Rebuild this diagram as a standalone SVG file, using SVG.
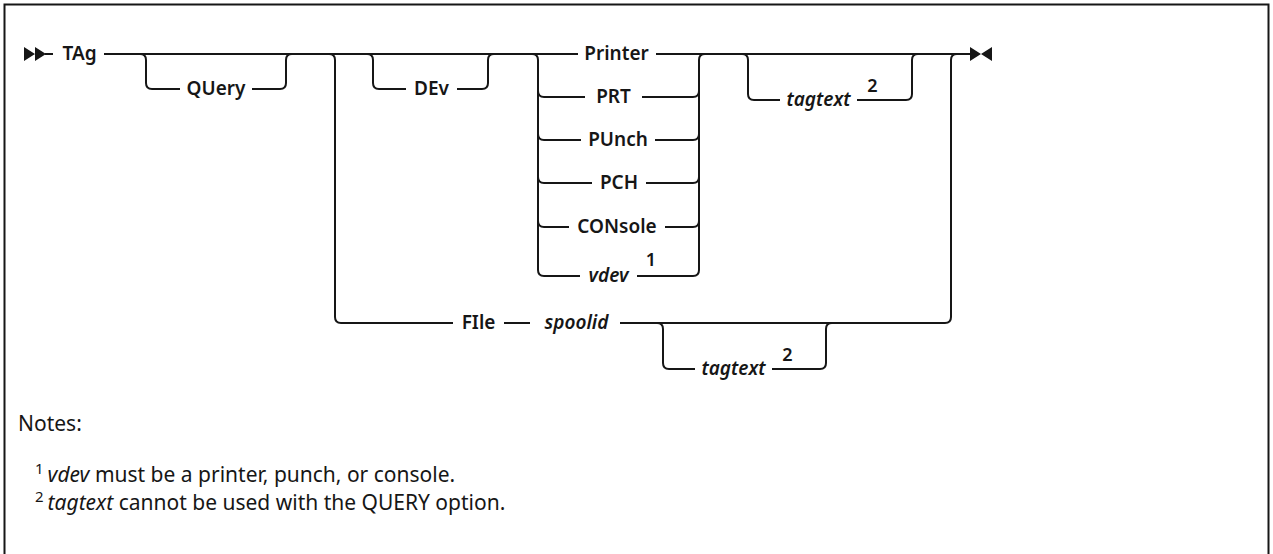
<svg xmlns="http://www.w3.org/2000/svg" width="1273" height="554" viewBox="0 0 1273 554">
<style>
.ln{fill:none;stroke:#161616;stroke-width:2}
.kw{font-family:"Noto Sans","Liberation Sans",sans-serif;font-size:19px;font-weight:600;fill:#161616;text-anchor:middle}
.var{font-family:"Noto Sans","Liberation Sans",sans-serif;font-size:19px;font-weight:600;font-style:italic;fill:#161616;text-anchor:middle}
.sup{font-family:"Noto Sans","Liberation Sans",sans-serif;font-size:18px;font-weight:600;fill:#161616;text-anchor:middle}
.note{font-family:"Noto Sans","Liberation Sans",sans-serif;font-size:21px;fill:#161616}
.mk{fill:#161616}
</style>
<rect x="4.5" y="4.5" width="1264" height="600" fill="#ffffff" stroke="#161616" stroke-width="2"/>
<g id="connectors">
  <path class="mk" d="M24,47 L35,54 L24,61 Z M35,47 L46,54 L35,61 Z"/>
  <path class="ln" d="M45,54 H53"/>
  <path class="ln" d="M104,54 H578"/>
  <path class="ln" d="M656,54 H970"/>
  <path class="mk" d="M970,47 L981,54 L970,61 Z M992,47 L981,54 L992,61 Z"/>
  <!-- QUery -->
  <path class="ln" d="M140,54 Q146,54 146,60 V83 Q146,89 152,89 H180"/>
  <path class="ln" d="M252,89 H280 Q286,89 286,83 V60 Q286,54 292,54"/>
  <!-- long left to FIle -->
  <path class="ln" d="M329,54 Q335,54 335,60 V317 Q335,323 341,323 H453"/>
  <!-- DEv -->
  <path class="ln" d="M367,54 Q373,54 373,60 V83 Q373,89 379,89 H406"/>
  <path class="ln" d="M457,89 H482 Q488,89 488,83 V60 Q488,54 494,54"/>
  <!-- stack left -->
  <path class="ln" d="M532,54 Q538,54 538,60 V270 Q538,276 544,276 H580"/>
  <path class="ln" d="M538,91 Q538,97 544,97 H585"/>
  <path class="ln" d="M538,134 Q538,140 544,140 H581"/>
  <path class="ln" d="M538,177 Q538,183 544,183 H592"/>
  <path class="ln" d="M538,221 Q538,227 544,227 H569"/>
  <!-- stack right -->
  <path class="ln" d="M637,276 H693 Q699,276 699,270 V60 Q699,54 705,54"/>
  <path class="ln" d="M642,97 H693 Q699,97 699,91"/>
  <path class="ln" d="M655,140 H693 Q699,140 699,134"/>
  <path class="ln" d="M646,183 H693 Q699,183 699,177"/>
  <path class="ln" d="M665,227 H693 Q699,227 699,221"/>
  <!-- tagtext top -->
  <path class="ln" d="M742,54 Q748,54 748,60 V94 Q748,100 754,100 H780"/>
  <path class="ln" d="M857,100 H906 Q912,100 912,94 V60 Q912,54 918,54"/>
  <!-- FIle row -->
  <path class="ln" d="M504,323 H530"/>
  <path class="ln" d="M620,323 H945 Q951,323 951,317 V60 Q951,54 957,54"/>
  <!-- tagtext bottom -->
  <path class="ln" d="M657,323 Q663,323 663,329 V363 Q663,369 669,369 H695"/>
  <path class="ln" d="M772,369 H820 Q826,369 826,363 V329 Q826,323 832,323"/>
</g>
<g id="n-tag"><text class="kw" x="79.5" y="60">TAg</text></g>
<g id="n-query"><text class="kw" x="216" y="95">QUery</text></g>
<g id="n-dev"><text class="kw" x="431.5" y="95">DEv</text></g>
<g id="n-printer"><text class="kw" x="616.5" y="60">Printer</text></g>
<g id="n-prt"><text class="kw" x="613.5" y="103">PRT</text></g>
<g id="n-punch"><text class="kw" x="618" y="146">PUnch</text></g>
<g id="n-pch"><text class="kw" x="619" y="189">PCH</text></g>
<g id="n-console"><text class="kw" x="617" y="233">CONsole</text></g>
<g id="n-vdev"><text class="var" x="608.5" y="282">vdev</text><text class="sup" x="651" y="266">1</text></g>
<g id="n-tagtext1"><text class="var" x="818.5" y="106">tagtext</text><text class="sup" x="872.5" y="92">2</text></g>
<g id="n-file"><text class="kw" x="478.5" y="329">FIle</text></g>
<g id="n-spoolid"><text class="var" x="576.5" y="329">spoolid</text></g>
<g id="n-tagtext2"><text class="var" x="733.5" y="375">tagtext</text><text class="sup" x="787.5" y="361">2</text></g>
<g id="notes">
  <text class="note" x="18" y="431">Notes:</text>
  <text class="note" x="35" y="482"><tspan font-size="15" dy="-8">1</tspan><tspan dy="8" dx="4" font-style="italic">vdev</tspan> must be a printer, punch, or console.</text>
  <text class="note" x="35" y="510"><tspan font-size="15" dy="-8">2</tspan><tspan dy="8" dx="4" font-style="italic">tagtext</tspan> cannot be used with the QUERY option.</text>
</g>
</svg>
